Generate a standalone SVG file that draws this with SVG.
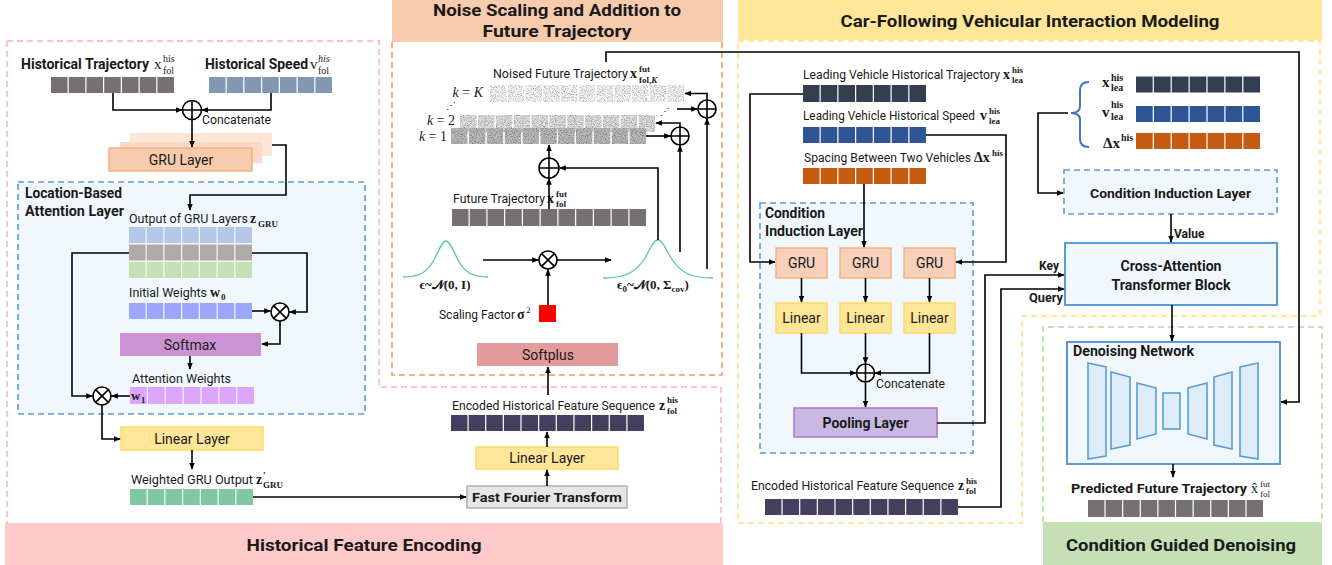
<svg xmlns="http://www.w3.org/2000/svg" width="1332" height="565" viewBox="0 0 1332 565">
<defs>
<marker id="ah" viewBox="0 0 10 10" refX="9" refY="5" markerWidth="7" markerHeight="7" markerUnits="userSpaceOnUse" orient="auto"><path d="M0,1 L10,5 L0,9 z" fill="#000"/></marker>
<filter id="noise" filterUnits="userSpaceOnUse" x="440" y="80" width="260" height="70">
<feTurbulence type="fractalNoise" baseFrequency="0.9" numOctaves="2" seed="7" result="t"/>
<feColorMatrix in="t" type="matrix" values="1.5 0 0 0 0.08  1.5 0 0 0 0.08  1.5 0 0 0 0.08  0 0 0 0 1" result="g"/>
<feBlend in="SourceGraphic" in2="g" mode="multiply" result="m"/>
<feComposite in="m" in2="SourceGraphic" operator="in"/>
</filter>
<style>
.c{fill:none;stroke:#000;stroke-width:1.6;marker-end:url(#ah)}
.ln{fill:none;stroke:#000;stroke-width:1.6}
.op{fill:#fff;stroke:#000;stroke-width:1.6}
.t{font-family:Roboto,"Liberation Sans",sans-serif;fill:#1a1a1a}
.b{font-weight:bold}
.m{font-family:"Liberation Serif","DejaVu Serif",serif;fill:#1a1a1a}
.mb{font-family:"Liberation Serif","DejaVu Serif",serif;font-weight:bold;fill:#1a1a1a}
.cell7{stroke-dasharray:16.54 1.2}
.cell11{stroke-dasharray:16.45 1.2}
.lin{fill:#ffe699;stroke:#ffd966;stroke-width:1.5}
.gru{fill:#f8cfb8;stroke:#f4b183;stroke-width:1.5}
.dblue{fill:#f0f8fe;stroke:#5b9bd5;stroke-width:1.6;stroke-dasharray:6 4}
.sblue{fill:#f0f8fe;stroke:#5b9bd5;stroke-width:2}
.trap{fill:#ddeefa;stroke:#5b9bd5;stroke-width:1.6}
</style>
</defs>
<rect width="1332" height="565" fill="#fff"/>

<g id="panels">
<rect x="392" y="0" width="331" height="42" fill="#f8cbad"/>
<rect x="738" y="0" width="584" height="40" fill="#ffe699"/>
<rect x="5" y="523" width="718" height="42" fill="#ffcaca"/>
<rect x="1043" y="522" width="279" height="43" fill="#c5e0b4"/>
<path d="M7,41 H379 V387 H721 V523 M7,41 V523" fill="none" stroke="#ffc4c4" stroke-width="2" stroke-dasharray="6 4"/>
<path d="M392,42 V375 H722 V42" fill="none" stroke="#f4b183" stroke-width="2" stroke-dasharray="6 4"/>
<path d="M738,41 H1320 V316 H1022 V523 H738 Z" fill="none" stroke="#ffe699" stroke-width="2" stroke-dasharray="6 4"/>
<path d="M1043,522 V327 H1322 V522" fill="none" stroke="#c5e0b4" stroke-width="2" stroke-dasharray="6 4"/>
<text class="t b" x="557" y="16" font-size="16.5" text-anchor="middle" textLength="248" lengthAdjust="spacingAndGlyphs">Noise Scaling and Addition to</text>
<text class="t b" x="557" y="37" font-size="16.5" text-anchor="middle" textLength="149" lengthAdjust="spacingAndGlyphs">Future Trajectory</text>
<text class="t b" x="1030" y="27" font-size="16.5" text-anchor="middle" textLength="379" lengthAdjust="spacingAndGlyphs">Car-Following Vehicular Interaction Modeling</text>
<text class="t b" x="364" y="551" font-size="17" text-anchor="middle" textLength="235" lengthAdjust="spacingAndGlyphs">Historical Feature Encoding</text>
<text class="t b" x="1181" y="551" font-size="17" text-anchor="middle" textLength="230" lengthAdjust="spacingAndGlyphs">Condition Guided Denoising</text>
</g>

<g id="attention-layer">
<rect x="18" y="182" width="347" height="232" class="dblue"/>
<text class="t b" x="25" y="198" font-size="14" textLength="97" lengthAdjust="spacingAndGlyphs">Location-Based</text>
<text class="t b" x="25" y="216" font-size="14" textLength="99" lengthAdjust="spacingAndGlyphs">Attention Layer</text>
</g>

<g id="hist-traj">
<text class="t b" x="21" y="69" font-size="14" textLength="128" lengthAdjust="spacingAndGlyphs">Historical Trajectory</text>
<text class="m" x="154" y="69" font-size="15">x</text>
<text class="m" x="163" y="62" font-size="10">his</text>
<text class="m" x="163" y="74" font-size="10">fol</text>
<line x1="51" y1="85" x2="174" y2="85" stroke="#767171" stroke-width="16" class="cell7"/>
</g>
<g id="hist-speed">
<text class="t b" x="205" y="69" font-size="14" textLength="103" lengthAdjust="spacingAndGlyphs">Historical Speed</text>
<text class="m" x="310" y="69" font-size="15">v</text>
<text class="m" x="318" y="62" font-size="10" font-style="italic">his</text>
<text class="m" x="318" y="74" font-size="10">fol</text>
<line x1="209" y1="85" x2="332" y2="85" stroke="#8497b0" stroke-width="16" class="cell7"/>
</g>
<g id="concat1">
<circle cx="192" cy="110" r="9.5" class="op"/>
<path d="M182.5,110H201.5M192,100.5V119.5" class="ln"/>
<text class="t" x="202" y="124" font-size="12" textLength="69" lengthAdjust="spacingAndGlyphs">Concatenate</text>
</g>
<g id="gru-layer">
<rect x="130" y="133" width="142" height="23" fill="#fde6d6"/>
<rect x="120" y="142" width="142" height="21" fill="#fbd9c4"/>
<rect x="109" y="148" width="143" height="23" fill="#f8cbad" stroke="#f4b183" stroke-width="1.5"/>
<text class="t" x="181" y="165" font-size="14" text-anchor="middle">GRU Layer</text>
</g>
<g id="z-gru">
<text class="t" x="129" y="223" font-size="12.5" textLength="119" lengthAdjust="spacingAndGlyphs">Output of GRU Layers</text>
<text class="mb" x="250" y="223" font-size="14">z</text>
<text class="mb" x="258" y="227" font-size="9">GRU</text>
<line x1="129" y1="235" x2="252" y2="235" stroke="#b4c7e7" stroke-width="16" class="cell7"/>
<line x1="129" y1="252.5" x2="252" y2="252.5" stroke="#aeaaaa" stroke-width="16" class="cell7"/>
<line x1="129" y1="270" x2="252" y2="270" stroke="#c5e0b4" stroke-width="16" class="cell7"/>
</g>
<g id="w0">
<text class="t" x="129" y="297" font-size="12.5" textLength="78" lengthAdjust="spacingAndGlyphs">Initial Weights</text>
<text class="mb" x="210" y="297" font-size="14">w</text>
<text class="mb" x="221" y="300" font-size="9">0</text>
<line x1="129" y1="311" x2="252" y2="311" stroke="#9ea6fb" stroke-width="16" class="cell7"/>
</g>
<g id="mul1">
<circle cx="280" cy="312" r="9" class="op"/>
<path d="M273.6,305.6L286.4,318.4M286.4,305.6L273.6,318.4" class="ln"/>
</g>
<g id="softmax">
<rect x="120" y="333" width="141" height="23" fill="#cc93d4"/>
<text class="t" x="190" y="350" font-size="14" text-anchor="middle">Softmax</text>
</g>
<g id="w1">
<text class="t" x="132" y="383" font-size="12.5" textLength="99" lengthAdjust="spacingAndGlyphs">Attention Weights</text>
<line x1="130" y1="395.5" x2="254" y2="395.5" stroke="#dea6fa" stroke-width="17" style="stroke-dasharray:16.7 1.2"/>
<text class="mb" x="131" y="400" font-size="13">w</text>
<text class="mb" x="141" y="403" font-size="8.5">1</text>
</g>
<g id="mul2">
<circle cx="102" cy="396" r="9" class="op"/>
<path d="M95.6,389.6L108.4,402.4M108.4,389.6L95.6,402.4" class="ln"/>
</g>
<g id="linear1">
<rect x="121" y="427" width="142" height="23" class="lin"/>
<text class="t" x="192" y="444" font-size="14" text-anchor="middle">Linear Layer</text>
</g>
<g id="z-prime">
<text class="t" x="131" y="484" font-size="12.5" textLength="122" lengthAdjust="spacingAndGlyphs">Weighted GRU Output</text>
<text class="mb" x="256" y="484" font-size="14">z</text>
<text class="mb" x="263" y="479" font-size="10">′</text>
<text class="mb" x="263" y="488" font-size="9">GRU</text>
<line x1="130" y1="497" x2="253" y2="497" stroke="#80c7a6" stroke-width="16" class="cell7"/>
</g>
<g id="fft">
<rect x="467" y="486" width="160" height="22" fill="#e7e6e6" stroke="#b0b0b0" stroke-width="1.5"/>
<text class="t b" x="547" y="502" font-size="13" text-anchor="middle" textLength="150" lengthAdjust="spacingAndGlyphs">Fast Fourier Transform</text>
</g>
<g id="linear2">
<rect x="476" y="447" width="142" height="22" class="lin"/>
<text class="t" x="547" y="463" font-size="14" text-anchor="middle">Linear Layer</text>
</g>
<g id="z-his-mid">
<text class="t" x="452" y="410" font-size="12.5" textLength="203" lengthAdjust="spacingAndGlyphs">Encoded Historical Feature Sequence</text>
<text class="mb" x="659" y="410" font-size="14">z</text>
<text class="mb" x="667" y="403" font-size="9">his</text>
<text class="mb" x="667" y="414" font-size="9">fol</text>
<line x1="451" y1="423" x2="644" y2="423" stroke="#423f5f" stroke-width="16" class="cell11"/>
</g>

<g id="softplus">
<rect x="477" y="343" width="141" height="23" fill="#e39a9a"/>
<text class="t" x="548" y="360" font-size="14" text-anchor="middle">Softplus</text>
</g>
<g id="sigma">
<rect x="539" y="305" width="17" height="17" fill="#ff0000"/>
<text class="t" x="439" y="319" font-size="12.5" textLength="76" lengthAdjust="spacingAndGlyphs">Scaling Factor</text>
<text class="mb" x="517" y="319" font-size="14">σ</text>
<text class="m" x="526" y="313" font-size="9">2</text>
</g>
<g id="mul3">
<circle cx="548" cy="260" r="9" class="op"/>
<path d="M541.6,253.6L554.4,266.4M554.4,253.6L541.6,266.4" class="ln"/>
</g>
<g id="gauss-std">
<path d="M403,277 C420,277 428,272 435,258 C440,247 443,241 446,241 C449,241 452,247 457,258 C464,272 472,277 488,277" fill="none" stroke="#5cc5a5" stroke-width="1.3"/>
<text class="mb" x="445" y="289" font-size="13" text-anchor="middle">ϵ~𝒩(0, I)</text>
</g>
<g id="gauss-cov">
<path d="M603,278 C626,278 636,272 645,258 C651,247 654,240 658,240 C662,240 665,247 671,258 C680,272 690,278 713,278" fill="none" stroke="#5cc5a5" stroke-width="1.3"/>
<text class="mb" x="617" y="289" font-size="13">ϵ<tspan font-size="9" dy="3">0</tspan><tspan dy="-3">~𝒩(0, Σ</tspan><tspan font-size="9" dy="3">cov</tspan><tspan dy="-3">)</tspan></text>
</g>
<g id="future-traj">
<text class="t" x="453" y="203" font-size="12.5" textLength="92" lengthAdjust="spacingAndGlyphs">Future Trajectory</text>
<text class="mb" x="547" y="203" font-size="14">x</text>
<text class="mb" x="556" y="197" font-size="9">fut</text>
<text class="mb" x="556" y="207" font-size="9">fol</text>
<line x1="452" y1="217.5" x2="646" y2="217.5" stroke="#767171" stroke-width="17" style="stroke-dasharray:16.55 1.2"/>
</g>
<g id="add0">
<circle cx="549" cy="168" r="10" class="op"/>
<path d="M539,168H559M549,158V178" class="ln"/>
</g>
<g id="noised-traj">
<text class="t" x="493" y="78" font-size="12.5" textLength="135" lengthAdjust="spacingAndGlyphs">Noised Future Trajectory</text>
<text class="mb" x="630" y="78" font-size="14">x</text>
<text class="mb" x="639" y="72" font-size="9">fut</text>
<text class="mb" x="639" y="83" font-size="9">fol,<tspan font-style="italic">K</tspan></text>
<g filter="url(#noise)">
<line x1="490" y1="93.5" x2="684" y2="93.5" stroke="#fafafa" stroke-width="17" style="stroke-dasharray:16.55 1.2"/>
<line x1="460" y1="123.5" x2="655" y2="123.5" stroke="#e2e2e2" stroke-width="17" style="stroke-dasharray:16.65 1.2"/>
<line x1="451" y1="136" x2="646" y2="136" stroke="#bcbcbc" stroke-width="16" style="stroke-dasharray:16.65 1.2"/>
</g>
<text class="m" x="483" y="97" font-size="14" text-anchor="end"><tspan font-style="italic">k</tspan> = <tspan font-style="italic">K</tspan></text>
<text class="m" x="455" y="125" font-size="14" text-anchor="end"><tspan font-style="italic">k</tspan> = 2</text>
<text class="m" x="447" y="141" font-size="14" text-anchor="end"><tspan font-style="italic">k</tspan> = 1</text>
<text class="m" x="451" y="109" font-size="10" text-anchor="middle">⋰</text>
<text class="m" x="665" y="115" font-size="10" text-anchor="middle">⋰</text>
</g>
<g id="add1">
<circle cx="680" cy="136" r="9" class="op"/>
<path d="M671,136H689M680,127V145" class="ln"/>
</g>
<g id="addK">
<circle cx="707" cy="109" r="9" class="op"/>
<path d="M698,109H716M707,100V118" class="ln"/>
</g>

<g id="lea-traj">
<text class="t" x="803" y="79" font-size="12.5" textLength="197" lengthAdjust="spacingAndGlyphs">Leading Vehicle Historical Trajectory</text>
<text class="mb" x="1003" y="79" font-size="14">x</text>
<text class="mb" x="1012" y="73" font-size="9">his</text>
<text class="mb" x="1012" y="83" font-size="9">lea</text>
<line x1="803" y1="93.5" x2="926" y2="93.5" stroke="#333f50" stroke-width="17" class="cell7"/>
</g>
<g id="lea-speed">
<text class="t" x="803" y="120" font-size="12" textLength="172" lengthAdjust="spacingAndGlyphs">Leading Vehicle Historical Speed</text>
<text class="mb" x="980" y="120" font-size="14">v</text>
<text class="mb" x="989" y="114" font-size="9">his</text>
<text class="mb" x="989" y="124" font-size="9">lea</text>
<line x1="803" y1="135" x2="926" y2="135" stroke="#2f5597" stroke-width="16" class="cell7"/>
</g>
<g id="spacing">
<text class="t" x="804" y="162" font-size="12.5" textLength="167" lengthAdjust="spacingAndGlyphs">Spacing Between Two Vehicles</text>
<text class="mb" x="974" y="162" font-size="14">Δx</text>
<text class="mb" x="992" y="156" font-size="9">his</text>
<line x1="803" y1="176" x2="926" y2="176" stroke="#c55a11" stroke-width="16" class="cell7"/>
</g>
<g id="cond-inputs">
<path d="M1089,82 Q1080,82 1080,90 V106 Q1080,113 1071,113 Q1080,113 1080,120 V139 Q1080,147 1089,147" fill="none" stroke="#4472c4" stroke-width="2"/>
<text class="mb" x="1102" y="87" font-size="15">x</text>
<text class="mb" x="1111" y="81" font-size="10">his</text>
<text class="mb" x="1111" y="91" font-size="10">lea</text>
<text class="mb" x="1102" y="117" font-size="15">v</text>
<text class="mb" x="1111" y="108" font-size="10">his</text>
<text class="mb" x="1111" y="120" font-size="10">lea</text>
<text class="mb" x="1103" y="148" font-size="15">Δx</text>
<text class="mb" x="1121" y="141" font-size="10">his</text>
<line x1="1136" y1="84.5" x2="1260" y2="84.5" stroke="#333f50" stroke-width="16" style="stroke-dasharray:16.7 1.2"/>
<line x1="1136" y1="114" x2="1260" y2="114" stroke="#2f5597" stroke-width="16" style="stroke-dasharray:16.7 1.2"/>
<line x1="1136" y1="141" x2="1260" y2="141" stroke="#c55a11" stroke-width="16" style="stroke-dasharray:16.7 1.2"/>
</g>
<g id="cond-induction-left">
<rect x="760" y="203" width="213" height="250" class="dblue"/>
<text class="t b" x="765" y="218" font-size="14" textLength="60" lengthAdjust="spacingAndGlyphs">Condition</text>
<text class="t b" x="765" y="236" font-size="14" textLength="98" lengthAdjust="spacingAndGlyphs">Induction Layer</text>
</g>
<g id="gru-1"><rect x="776" y="248" width="51" height="30" class="gru"/><text class="t" x="801.5" y="268" font-size="14" text-anchor="middle">GRU</text></g>
<g id="gru-2"><rect x="840" y="248" width="51" height="30" class="gru"/><text class="t" x="865.5" y="268" font-size="14" text-anchor="middle">GRU</text></g>
<g id="gru-3"><rect x="904" y="248" width="51" height="30" class="gru"/><text class="t" x="929.5" y="268" font-size="14" text-anchor="middle">GRU</text></g>
<g id="linear-1"><rect x="776" y="303" width="51" height="30" class="lin"/><text class="t" x="801.5" y="323" font-size="14" text-anchor="middle">Linear</text></g>
<g id="linear-2"><rect x="840" y="303" width="51" height="30" class="lin"/><text class="t" x="865.5" y="323" font-size="14" text-anchor="middle">Linear</text></g>
<g id="linear-3"><rect x="904" y="303" width="51" height="30" class="lin"/><text class="t" x="929.5" y="323" font-size="14" text-anchor="middle">Linear</text></g>
<g id="concat2">
<circle cx="865.5" cy="373" r="9" class="op"/>
<path d="M856.5,373H874.5M865.5,364V382" class="ln"/>
<text class="t" x="876" y="388" font-size="12" textLength="69" lengthAdjust="spacingAndGlyphs">Concatenate</text>
</g>
<g id="pooling">
<rect x="794" y="408" width="143" height="29" fill="#c9b9e2" stroke="#b07cd0" stroke-width="1.6"/>
<text class="t b" x="865.5" y="428" font-size="14" text-anchor="middle">Pooling Layer</text>
</g>
<g id="z-his-right">
<text class="t" x="751" y="490" font-size="12.5" textLength="203" lengthAdjust="spacingAndGlyphs">Encoded Historical Feature Sequence</text>
<text class="mb" x="958" y="490" font-size="14">z</text>
<text class="mb" x="966" y="484" font-size="9">his</text>
<text class="mb" x="966" y="494" font-size="9">fol</text>
<line x1="765" y1="507" x2="958" y2="507" stroke="#423f5f" stroke-width="16" class="cell11"/>
</g>
<g id="cond-induction-right">
<rect x="1064" y="170" width="213" height="44" class="dblue"/>
<text class="t b" x="1170.5" y="198" font-size="13.5" text-anchor="middle" textLength="161" lengthAdjust="spacingAndGlyphs">Condition Induction Layer</text>
</g>
<g id="cross-attention">
<rect x="1065" y="243" width="212" height="62" class="sblue"/>
<text class="t b" x="1171" y="271" font-size="14" text-anchor="middle" textLength="101" lengthAdjust="spacingAndGlyphs">Cross-Attention</text>
<text class="t b" x="1171" y="290" font-size="14" text-anchor="middle" textLength="119" lengthAdjust="spacingAndGlyphs">Transformer Block</text>
</g>
<g id="denoising">
<rect x="1067" y="342" width="213" height="122" class="sblue"/>
<text class="t b" x="1073" y="356" font-size="14" textLength="121" lengthAdjust="spacingAndGlyphs">Denoising Network</text>
<polygon points="1088,363 1106,367 1106,456 1088,459" class="trap"/>
<polygon points="1111,372 1130,377 1130,445 1111,449" class="trap"/>
<polygon points="1137,383 1156,388 1156,434 1137,439" class="trap"/>
<rect x="1163" y="393" width="17" height="36" class="trap"/>
<polygon points="1188,388 1207,383 1207,439 1188,434" class="trap"/>
<polygon points="1214,377 1232,372 1232,449 1214,445" class="trap"/>
<polygon points="1240,367 1258,363 1258,459 1240,456" class="trap"/>
</g>
<g id="predicted">
<text class="t b" x="1071" y="493" font-size="13.5" textLength="176" lengthAdjust="spacingAndGlyphs">Predicted Future Trajectory</text>
<text class="m" x="1251" y="493" font-size="14">x̂</text>
<text class="m" x="1260" y="487" font-size="9">fut</text>
<text class="m" x="1260" y="497" font-size="9">fol</text>
<line x1="1088" y1="508.5" x2="1263" y2="508.5" stroke="#767171" stroke-width="17" style="stroke-dasharray:16.42 1.2"/>
</g>

<g id="connectors">
<path d="M113,93 V110 H182" class="c"/>
<path d="M271,93 V110 H202" class="c"/>
<path d="M192,119.5 V147" class="c"/>
<path d="M272,145 H286 V195 H190 V210" class="c"/>
<path d="M129,253 H72 V396 H92.5" class="c"/>
<path d="M252,253 H307 V312 H289.5" class="c"/>
<path d="M252,311 H270.5" class="c"/>
<path d="M280,321 V344 H262" class="c"/>
<path d="M190,356 V369" class="c"/>
<path d="M130,396 H111.5" class="c"/>
<path d="M102,405 V439 H120" class="c"/>
<path d="M192,450 V469" class="c"/>
<path d="M253,497 H466" class="c"/>
<path d="M547,486 V470" class="c"/>
<path d="M547,447 V432" class="c"/>
<path d="M548,395 V367" class="c"/>
<path d="M548,305 V269.5" class="c"/>
<path d="M483,260 H538.5" class="c"/>
<path d="M557,260 H611" class="c"/>
<path d="M549,209 V178.5" class="c"/>
<path d="M549,158 V145" class="c"/>
<path d="M658,240 V168 H559.5" class="c"/>
<path d="M680,252 V145.5" class="c"/>
<path d="M646,136 H670.5" class="c"/>
<path d="M680,127 V123 H656" class="c"/>
<path d="M707,269 V118.5" class="c"/>
<path d="M677,109 H697.5" class="c"/>
<path d="M707,100 V93.5 H685" class="c"/>
<path d="M606,62 V52 H1299 V402 H1281" class="c"/>
<path d="M803,94 H750 V262 H775" class="c"/>
<path d="M926,135 H1006 V262 H956" class="c"/>
<path d="M864,184 V247" class="c"/>
<path d="M801.5,278 V302" class="c"/>
<path d="M865.5,278 V302" class="c"/>
<path d="M929.5,278 V302" class="c"/>
<path d="M801.5,333 V373 H856" class="c"/>
<path d="M865.5,333 V363.5" class="c"/>
<path d="M929.5,333 V373 H875" class="c"/>
<path d="M865.5,382 V407" class="c"/>
<path d="M937,423 H985 V275 H1064" class="c"/>
<path d="M958,507 H1001 V289 H1064" class="c"/>
<path d="M1068,113 H1038 V193 H1063" class="c"/>
<path d="M1171,214 V242" class="c"/>
<path d="M1172,305 V341" class="c"/>
<path d="M1173,464 V477" class="c"/>
<text class="t b" x="1174" y="238" font-size="12">Value</text>
<text class="t b" x="1059" y="270" font-size="12" text-anchor="end">Key</text>
<text class="t b" x="1029" y="302" font-size="12" textLength="34" lengthAdjust="spacingAndGlyphs">Query</text>
</g>
</svg>
